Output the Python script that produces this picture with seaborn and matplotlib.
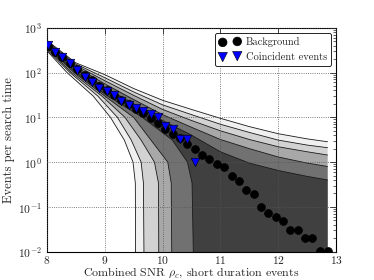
import numpy as np
import matplotlib
matplotlib.use('Agg')
import matplotlib.pyplot as plt
import seaborn as sns

# background (time slides) and coincident events
bg_x = [8.02, 8.15, 8.27, 8.40, 8.53, 8.66, 8.78, 8.91, 9.04, 9.16, 9.29, 9.42,
        9.54, 9.67, 9.80, 9.92, 10.05, 10.18, 10.30, 10.43, 10.56,
        10.69, 10.81, 10.94, 11.07, 11.20, 11.32, 11.45, 11.58, 11.70, 11.83,
        11.96, 12.08, 12.21, 12.34, 12.46, 12.59, 12.72, 12.85]
bg_y = [390, 290, 222, 165, 120, 88, 68, 51, 41, 32, 24.5, 19.5,
        15.5, 12.3, 9.8, 7.3, 5.5, 4.2, 3.4, 2.6, 1.96,
        1.46, 1.17, 0.91, 0.77, 0.50, 0.38, 0.24, 0.19, 0.10, 0.072,
        0.060, 0.049, 0.030, 0.030, 0.020, 0.020, 0.0105, 0.0105]
coinc_x = bg_x[:21]
coinc_y = [408, 289, 218, 162, 112, 79, 61, 45, 39.5, 31.8, 23.5, 19.3,
           16.3, 13.7, 12.0, 10.3, 6.4, 5.4, 3.2, 3.2, 1.02]

# upper edges of the shaded bands (inner -> outer)
up_x = [8.02, 8.5, 9.0, 9.5, 10.0, 10.5, 11.0, 11.5, 12.0, 12.5, 12.85]
up1 = [420, 125, 47, 20, 8.5, 4.0, 1.7, 0.95, 0.65, 0.48, 0.40]
up2 = [440, 135, 56, 25, 11.5, 6.0, 3.2, 2.0, 1.3, 0.95, 0.80]
up3 = [460, 145, 66, 31, 15, 8.5, 5.0, 3.2, 2.2, 1.7, 1.44]
up4 = [480, 155, 77, 37, 19, 11.5, 7.0, 4.6, 3.1, 2.4, 2.1]
up5 = [500, 165, 90, 44, 24, 15, 9.5, 6.2, 4.3, 3.3, 2.85]

# lower edges (inner -> outer); they fall to zero
lo_y = [1e-4, 0.34, 1.0, 3.1, 10, 30, 100]
lo1_x = [10.56, 10.51, 10.43, 10.17, 9.65, 9.05, 8.50]
lo2_x = [10.17, 10.15, 10.09, 9.80, 9.50, 9.00, 8.47]
lo3_x = [9.94, 9.93, 9.86, 9.63, 9.35, 8.95, 8.43]
lo4_x = [9.69, 9.67, 9.63, 9.46, 9.22, 8.88, 8.40]
lo5_x = [9.54, 9.53, 9.49, 9.34, 9.10, 8.80, 8.35]
lo_start = [370, 350, 330, 310, 290]

band_colors = ['#404040', '#717171', '#a8a8a8', '#d2d2d2', '#f0f0f0']

sns.set_style('white')
plt.rcParams['font.family'] = ['serif']
plt.rcParams['font.serif'] = ['cmr10', 'DejaVu Serif']
plt.rcParams['mathtext.fontset'] = 'cm'
plt.rcParams['axes.formatter.use_mathtext'] = True

fig = plt.figure(figsize=(3.74, 2.8), dpi=100)
ax = fig.add_axes([0.125, 0.101, 0.774, 0.80])

uppers = [up1, up2, up3, up4, up5]
lowers = [lo1_x, lo2_x, lo3_x, lo4_x, lo5_x]
for k in range(4, -1, -1):
    lx = [up_x[-1]] + lowers[k] + [up_x[0]]
    ly = [1e-4] + lo_y + [lo_start[k]]
    ax.fill(up_x + lx, uppers[k] + ly, color=band_colors[k], lw=0, zorder=1)
for k in range(5):
    ax.plot(up_x, uppers[k], color='#1a1a1a', lw=0.6, zorder=2)
    ax.plot(lowers[k] + [up_x[0]], lo_y + [lo_start[k]], color='#1a1a1a', lw=0.6, zorder=2)

sns.scatterplot(x=bg_x, y=bg_y, ax=ax, marker='o', s=32, color='k',
                edgecolor='k', linewidth=0.5, label='Background', zorder=3)
sns.scatterplot(x=coinc_x, y=coinc_y, ax=ax, marker='v', s=38, color='#0000ff',
                edgecolor='k', linewidth=0.4, label='Coincident events', zorder=4)

ax.set_yscale('log')
ax.set_xlim(8, 13)
ax.set_ylim(1e-2, 1e3)
ax.set_xticks([8, 9, 10, 11, 12, 13])
ax.grid(True, which='major', color='#555555', ls=':', lw=0.6, zorder=5)
ax.set_axisbelow(False)
ax.tick_params(which='both', direction='in', top=True, right=True, labelsize=8.3)
ax.tick_params(axis='x', pad=1.5)
ax.tick_params(which='major', length=4, width=0.6)
ax.tick_params(which='minor', length=2, width=0.5)
for s in ax.spines.values():
    s.set_linewidth(0.8)
    s.set_color('k')

ax.set_xlabel(r'Combined SNR $\rho_c$, short duration events', fontsize=8.6, labelpad=0)
ax.set_ylabel('Events per search time', fontsize=9, labelpad=2)

leg = ax.legend(loc='upper right', scatterpoints=2, fontsize=7.5, frameon=True,
                fancybox=True, framealpha=1, edgecolor='k', borderpad=0.4,
                handletextpad=0.5, labelspacing=0.5, borderaxespad=0.5,
                markerscale=1.1)
leg.get_frame().set_linewidth(0.6)

fig.savefig('out.png', dpi=100)
